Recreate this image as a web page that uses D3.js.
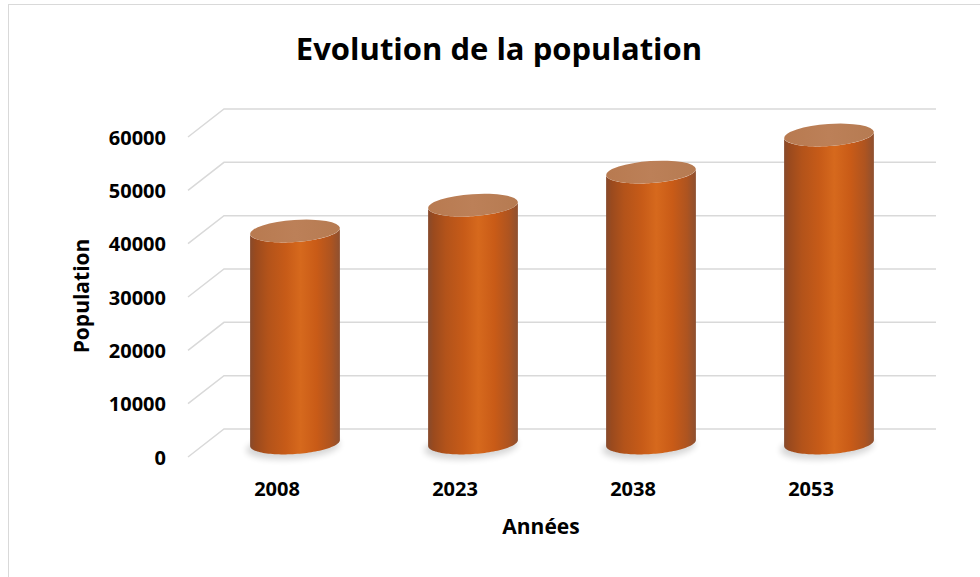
<!DOCTYPE html>
<html>
<head>
<meta charset="utf-8">
<script src="https://cdn.jsdelivr.net/npm/d3@7"></script>
<style>
  html, body { margin: 0; padding: 0; background: #fff; }
  svg { display: block; }
  text { font-family: "Open Sans", "Liberation Sans", sans-serif; font-weight: 700; fill: #000; }
</style>
</head>
<body>
<svg id="chart" width="980" height="577"></svg>
<script>
// Population per year
const years = ["2008", "2023", "2038", "2053"];
const population = [39750, 44600, 50800, 57750];
const yTicks = [0, 10000, 20000, 30000, 40000, 50000, 60000];

const titleText = "Evolution de la population";
const yTitle = "Population";
const xTitle = "Années";

const svg = d3.select("#chart");
const W = 980, H = 577;

// oblique 3D offsets: floor depth (back wall is up/right of the front edge)
const depthX = 36, depthY = -28;

// front-edge scales
const y = d3.scaleLinear().domain([0, 60000]).range([457, 137]);
const x = d3.scaleBand().domain(years).range([188, 900]).padding(0);

// chart area border
svg.append("rect")
  .attr("x", 8.5).attr("y", 4.5)
  .attr("width", W + 20).attr("height", H + 20)
  .attr("fill", "#fff").attr("stroke", "#d9d9d9").attr("stroke-width", 1);

const defs = svg.append("defs");

const grad = defs.append("linearGradient")
  .attr("id", "cylBody").attr("x1", "0").attr("x2", "1").attr("y1", "0").attr("y2", "0");
[
  [0.00, "#874a2c"],
  [0.06, "#9a4a1e"],
  [0.20, "#b3531a"],
  [0.40, "#c75b18"],
  [0.56, "#d6691d"],
  [0.74, "#c95b17"],
  [0.90, "#ae5420"],
  [1.00, "#8e5030"]
].forEach(([o, c]) => grad.append("stop").attr("offset", o).attr("stop-color", c));

const topGrad = defs.append("linearGradient")
  .attr("id", "cylTop").attr("x1", "0").attr("x2", "1").attr("y1", "0").attr("y2", "0");
[[0, "#b87a50"], [0.5, "#bc8058"], [1, "#b67b52"]]
  .forEach(([o, c]) => topGrad.append("stop").attr("offset", o).attr("stop-color", c));

defs.append("filter").attr("id", "soft")
  .attr("x", "-30%").attr("y", "-100%").attr("width", "160%").attr("height", "300%")
  .append("feGaussianBlur").attr("stdDeviation", 3);

// gridlines: slanted floor segment + back wall line
const grid = svg.append("g").attr("class", "grid");
yTicks.forEach(v => {
  const fy = y(v);
  grid.append("path")
    .attr("d", `M${188},${fy} L${188 + depthX},${fy + depthY} L${936},${fy + depthY}`)
    .attr("fill", "none").attr("stroke", "#d9d9d9").attr("stroke-width", 1.5);
});

// y tick labels
svg.append("g").selectAll("text").data(yTicks).join("text")
  .attr("x", 166).attr("y", d => y(d))
  .attr("text-anchor", "end").attr("dominant-baseline", "central")
  .style("font-size", "20px")
  .text(d => d);

// x tick labels
svg.append("g").selectAll("text").data(years).join("text")
  .attr("x", d => x(d) + x.bandwidth() / 2).attr("y", 488)
  .attr("text-anchor", "middle").attr("dominant-baseline", "central")
  .style("font-size", "20px")
  .text(d => d);

// ellipse geometry of the cylinder cross-section
const rx = 45, ry = 11, theta = -4 * Math.PI / 180;
const phi = Math.atan2(ry * Math.sin(theta), rx * Math.cos(theta));
function ePoint(cx, cy, t) {
  return [
    cx + rx * Math.cos(t) * Math.cos(theta) - ry * Math.sin(t) * Math.sin(theta),
    cy + rx * Math.cos(t) * Math.sin(theta) + ry * Math.sin(t) * Math.cos(theta)
  ];
}
function arc(cx, cy, t0, t1, n) {
  return d3.range(n + 1).map(i => ePoint(cx, cy, t0 + (t1 - t0) * i / n));
}

const bars = svg.append("g").selectAll("g").data(years.map((yr, i) => ({ yr, v: population[i] })))
  .join("g");

bars.each(function(d) {
  const g = d3.select(this);
  const cx = x(d.yr) + x.bandwidth() / 2 + depthX / 2;
  const baseY = y(0) + depthY / 2;
  const topY = y(d.v) + depthY / 2;

  // soft floor shadow
  g.append("ellipse")
    .attr("cx", cx - 2).attr("cy", baseY + 4)
    .attr("rx", rx + 2).attr("ry", ry + 1)
    .attr("transform", `rotate(${theta * 180 / Math.PI},${cx},${baseY + 4})`)
    .attr("fill", "#000").attr("opacity", 0.16).attr("filter", "url(#soft)");

  // body: bottom front arc, up the left side, top front arc back to the right side
  const bottom = arc(cx, baseY, -phi, Math.PI - phi, 60);
  const top = arc(cx, topY, Math.PI - phi, -phi, 60);
  g.append("path")
    .attr("d", d3.line()(bottom.concat(top)) + "Z")
    .attr("fill", "url(#cylBody)");

  // top cap
  g.append("ellipse")
    .attr("cx", cx).attr("cy", topY)
    .attr("rx", rx).attr("ry", ry)
    .attr("transform", `rotate(${theta * 180 / Math.PI},${cx},${topY})`)
    .attr("fill", "url(#cylTop)");
});

// titles
svg.append("text")
  .attr("x", 499).attr("y", 60)
  .attr("text-anchor", "middle")
  .style("font-size", "31px")
  .text(titleText);

svg.append("text")
  .attr("transform", "translate(81,296) rotate(-90)")
  .attr("text-anchor", "middle").attr("dominant-baseline", "central")
  .style("font-size", "21px")
  .text(yTitle);

svg.append("text")
  .attr("x", 541).attr("y", 534)
  .attr("text-anchor", "middle")
  .style("font-size", "21px")
  .text(xTitle);
</script>
</body>
</html>
